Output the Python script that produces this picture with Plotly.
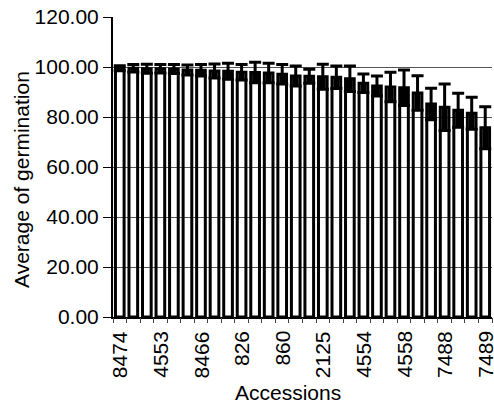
import plotly.graph_objects as go

# positions of the 28 accessions (only every third one is labelled in the chart)
bar_index = list(range(28))
means = [99.5, 99.5, 99.3, 99.3, 99.2, 98.8, 98.7, 98.4, 98.3, 97.9, 97.8, 97.6, 97.1, 96.4,
         96.3, 96.1, 95.9, 95.3, 93.5, 92.4, 92.0, 91.7, 89.6, 85.2, 83.9, 82.7, 81.5, 75.7]
errors = [1.0, 1.5, 1.8, 1.7, 1.8, 2.0, 2.3, 2.8, 3.2, 3.1, 4.1, 3.9, 3.9, 4.0,
          2.8, 5.0, 4.5, 5.1, 3.7, 4.0, 5.9, 7.1, 6.9, 6.3, 9.3, 6.8, 6.4, 8.4]
label_index = [0, 3, 6, 9, 12, 15, 18, 21, 24, 27]
tick_labels = ["8474", "4553", "8466", "826", "860", "2125", "4554", "4558", "7488", "7489"]
boundaries = [i - 0.5 for i in range(29)]

fig = go.Figure()
fig.add_trace(go.Bar(
    x=bar_index, y=means,
    marker=dict(color="rgba(255,255,255,0)", line=dict(color="black", width=3)),
    error_y=dict(type="data", array=errors, visible=True, color="black",
                 thickness=3, width=6),
    showlegend=False,
))
# lower half of each error bar drawn heavier, filling the bar top like the print
fig.add_trace(go.Scatter(
    x=bar_index, y=means, mode="markers", marker=dict(opacity=0),
    error_y=dict(type="data", symmetric=False, array=[0] * len(errors),
                 arrayminus=errors, visible=True, color="black", thickness=6, width=0),
    showlegend=False, hoverinfo="skip",
))
# invisible trace on overlay axis to draw tick marks at category boundaries
fig.add_trace(go.Scatter(x=boundaries, y=[0] * len(boundaries), xaxis="x2",
                         mode="markers", marker=dict(opacity=0), showlegend=False,
                         hoverinfo="skip"))

font = dict(family="Liberation Sans, Arial, sans-serif", color="black")

annotations = [
    dict(text=lab, xref="x", yref="paper", x=xi, y=-0.043, xanchor="center",
         yanchor="top", textangle=-90, showarrow=False, font=dict(**font, size=21),
         borderpad=0)
    for xi, lab in zip(label_index, tick_labels)
]
annotations += [
    dict(text="Average of germination", xref="paper", yref="paper",
         x=-0.240, y=0.457, xanchor="center", yanchor="middle", textangle=-90,
         showarrow=False, font=dict(**font, size=21)),
    dict(text="Accessions", xref="paper", yref="paper",
         x=0.462, y=-0.25, xanchor="center", yanchor="middle",
         showarrow=False, font=dict(**font, size=21)),
]

fig.update_layout(
    width=494, height=408,
    margin=dict(l=113, r=2, t=17, b=91),
    paper_bgcolor="white", plot_bgcolor="white",
    bargap=0.36,
    font=dict(**font, size=21),
    xaxis=dict(
        range=[-0.5, 27.5], showticklabels=False, ticks="", showgrid=False,
        zeroline=False, automargin=False,
        showline=True, linecolor="black", linewidth=1.5,
    ),
    xaxis2=dict(
        overlaying="x", range=[-0.5, 27.5], tickmode="array", tickvals=boundaries,
        ticks="outside", ticklen=5, tickcolor="#444", showticklabels=False,
        showgrid=False, zeroline=False, showline=False, side="bottom", automargin=False,
    ),
    yaxis=dict(
        range=[0, 120], dtick=20, tickformat=".2f", ticks="outside", ticklen=8,
        tickcolor="black", showgrid=True, gridcolor="#555", gridwidth=1,
        zeroline=False, showline=True, linecolor="black", linewidth=2, automargin=False,
        tickfont=dict(**font, size=21),
    ),
    annotations=annotations,
)
fig.write_html("out.html", config={"displayModeBar": False},
               post_script="document.body.style.margin='0';document.body.style.padding='0';")
